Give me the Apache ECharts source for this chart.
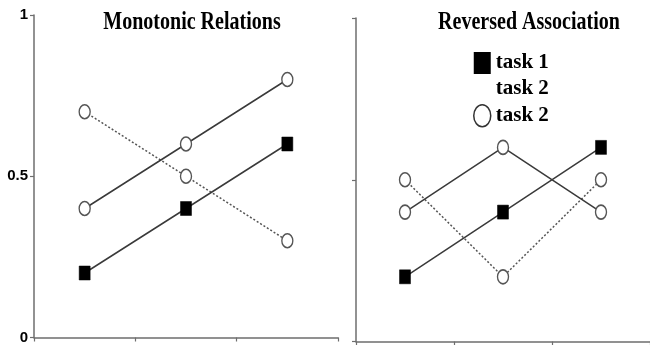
<!DOCTYPE html>
<html>
<head>
<meta charset="utf-8">
<script src="https://cdn.jsdelivr.net/npm/echarts@6/dist/echarts.min.js"></script>
<style>
  html, body { margin: 0; padding: 0; background: #fff; }
  #chart { width: 650px; height: 345px; }
</style>
</head>
<body>
<div id="chart"></div>
<script>
// Three conditions along the x axis, proportions on the y axis
const conditions = ['A', 'B', 'C'];
const yTicks = [0, 0.5, 1];

// Left panel: monotonic relations
const monoTask1 = [0.2, 0.4, 0.6];
const monoTask2 = [0.4, 0.6, 0.8];
const monoTask2Alt = [0.7, 0.5, 0.3];

// Right panel: reversed association
const revTask1 = [0.2, 0.4, 0.6];
const revTask2 = [0.4, 0.6, 0.4];
const revTask2Alt = [0.5, 0.2, 0.5];

const panelTitles = ['Monotonic Relations', 'Reversed Association'];

const ellipse = 'path://M0,6 A5,6 0 1,1 10,6 A5,6 0 1,1 0,6 Z';
const axisGray = '#6e6e6e';
const lineGray = '#3a3a3a';

function solidSeries(name, idx, data, filled) {
  return {
    name: name,
    type: 'line',
    xAxisIndex: idx,
    yAxisIndex: idx,
    data: data,
    symbol: filled ? 'rect' : ellipse,
    symbolSize: [11, 14],
    symbolKeepAspect: false,
    showAllSymbol: true,
    lineStyle: { color: lineGray, width: 1.5 },
    itemStyle: filled
      ? { color: '#000', borderColor: '#000', borderWidth: 0.5 }
      : { color: '#fff', borderColor: '#555', borderWidth: 1.5 },
    z: filled ? 4 : 3,
    silent: true,
    animation: false
  };
}

function dottedSeries(name, idx, data) {
  const s = solidSeries(name, idx, data, false);
  s.lineStyle = { color: '#555', width: 1.5, type: [2, 2] };
  s.z = 2;
  return s;
}

const xAxisBase = {
  type: 'category',
  data: conditions,
  boundaryGap: true,
  axisLine: { lineStyle: { color: axisGray, width: 1.5 } },
  axisTick: { show: true, inside: false, length: 4, lineStyle: { color: axisGray, width: 1.2 } },
  axisLabel: { show: false },
  splitLine: { show: false }
};

const yAxisBase = {
  type: 'value',
  min: yTicks[0],
  max: yTicks[yTicks.length - 1],
  interval: 0.5,
  axisLine: { show: true, lineStyle: { color: axisGray, width: 1.5 } },
  axisTick: { show: true, inside: false, length: 4, lineStyle: { color: axisGray, width: 1.2 } },
  splitLine: { show: false }
};

const chart = echarts.init(document.getElementById('chart'), null, { renderer: 'canvas' });

chart.setOption({
  backgroundColor: '#fff',
  animation: false,
  grid: [
    { left: 34, top: 15, width: 304, height: 324 },
    { left: 356, top: 18, width: 303, height: 323.5 }
  ],
  xAxis: [
    Object.assign({ gridIndex: 0 }, xAxisBase),
    Object.assign({ gridIndex: 1 }, xAxisBase)
  ],
  yAxis: [
    Object.assign({ gridIndex: 0 }, yAxisBase, {
      axisLabel: {
        show: true,
        color: '#000',
        fontFamily: 'Liberation Sans',
        fontWeight: 'bold',
        fontSize: 15,
        margin: 6,
        formatter: v => String(v)
      }
    }),
    Object.assign({ gridIndex: 1 }, yAxisBase, { axisLabel: { show: false } })
  ],
  legend: {
    orient: 'vertical',
    left: 468,
    top: 47,
    itemWidth: 17,
    itemHeight: 22,
    itemGap: 4,
    symbolKeepAspect: false,
    selectedMode: false,
    formatter: name => name.indexOf('task 2') === 0 ? 'task 2' : name,
    textStyle: {
      fontFamily: 'Liberation Serif',
      fontWeight: 'bold',
      fontSize: 21,
      color: '#000'
    },
    data: [
      { name: 'task 1', icon: 'rect', itemStyle: { color: '#000', borderWidth: 0 } },
      { name: 'task 2', icon: 'rect', itemStyle: { color: 'rgba(0,0,0,0)', borderColor: 'rgba(0,0,0,0)', borderWidth: 0 } },
      { name: 'task 2 (dotted)', icon: ellipse, itemStyle: { color: '#fff', borderColor: '#333', borderWidth: 1.5 } }
    ]
  },
  graphic: panelTitles.map((t, i) => ({
    type: 'text',
    x: i === 0 ? 192 : 529,
    y: 22,
    scaleX: 0.77,
    style: {
      text: t,
      x: 0,
      y: 0,
      fontFamily: 'Liberation Serif',
      fontWeight: 'bold',
      fontSize: 26,
      fill: '#000',
      align: 'center',
      verticalAlign: 'middle'
    },
    silent: true
  })),
  series: [
    solidSeries('task 1', 0, monoTask1, true),
    solidSeries('task 2', 0, monoTask2, false),
    dottedSeries('task 2 (dotted)', 0, monoTask2Alt),
    solidSeries('task 1', 1, revTask1, true),
    solidSeries('task 2', 1, revTask2, false),
    dottedSeries('task 2 (dotted)', 1, revTask2Alt)
  ]
});
</script>
</body>
</html>
